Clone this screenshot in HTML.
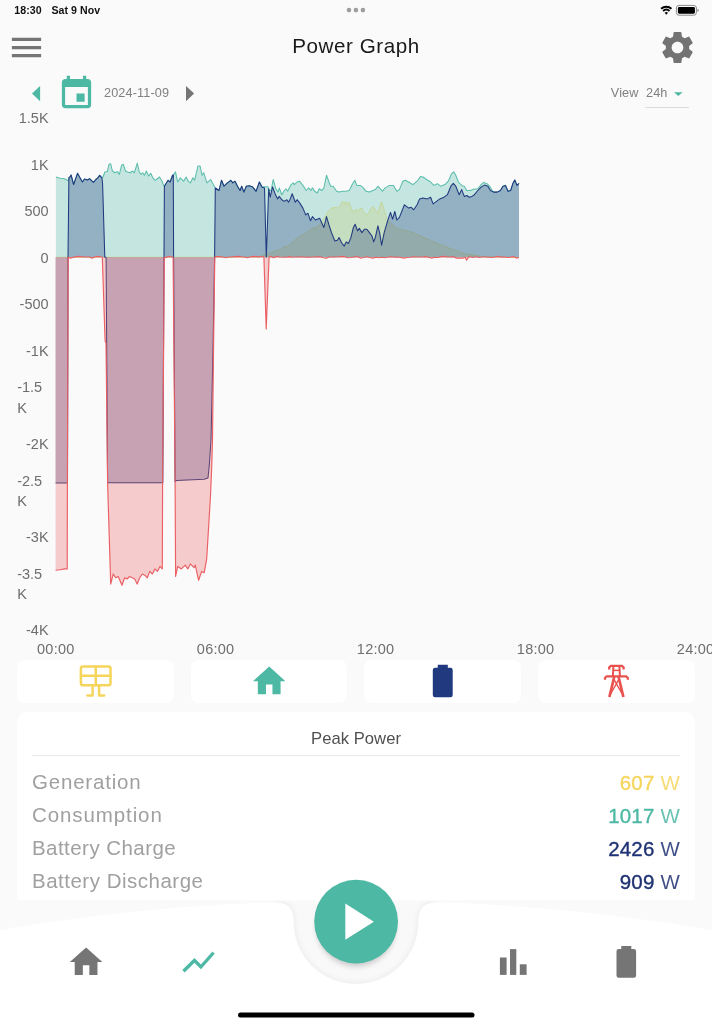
<!DOCTYPE html>
<html lang="en"><head><meta charset="utf-8"><title>Power Graph</title>
<style>
*{box-sizing:border-box;margin:0;padding:0}
html,body{width:712px;height:1024px;overflow:hidden;background:#fafafa}
body{position:relative;font-family:"Liberation Sans","DejaVu Sans",sans-serif;color:#757575}
.abs{position:absolute;white-space:nowrap;line-height:1}
.ic{position:absolute;display:block}
.card{position:absolute;background:#fff;border-radius:8px}
.ylab{position:absolute;left:0;width:48.6px;text-align:right;font-size:14.5px;line-height:18.6px;color:#6e6e6e;white-space:nowrap}
.ylab.two{text-align:left;left:17.2px;width:40px;line-height:20.4px}
.xlab{position:absolute;top:640.5px;width:60px;text-align:center;font-size:14.5px;letter-spacing:.25px;line-height:16px;color:#6e6e6e}
.row{position:absolute;left:32px;right:32px;height:24px;font-size:20.5px;line-height:24px;color:#a0a0a0;letter-spacing:.45px}
.row b{position:absolute;right:0;top:.5px;font-weight:normal;letter-spacing:.2px}
.row b i{font-style:normal;opacity:.85}
.row b u{text-decoration:none;-webkit-text-stroke:.35px currentColor}
</style></head><body>

<!-- status bar -->
<div class="abs" style="left:14.2px;top:5.2px;font-size:10.6px;font-weight:bold;color:#111;letter-spacing:.1px">18:30</div>
<div class="abs" style="left:51.4px;top:5.2px;font-size:10.6px;font-weight:bold;color:#111;letter-spacing:.05px">Sat 9 Nov</div>
<svg class="ic" style="left:340px;top:4px" width="32" height="12" viewBox="0 0 32 12"><g fill="#9e9e9e"><circle cx="9" cy="6.1" r="2.3"/><circle cx="15.9" cy="6.1" r="2.3"/><circle cx="22.9" cy="6.1" r="2.3"/></g></svg>
<svg class="ic" style="left:656px;top:2px" width="48" height="18" viewBox="0 0 48 18">
  <g fill="none" stroke="#000" stroke-width="1.9" stroke-linecap="butt">
    <path d="M5.12,6.74 A7.9,7.9 0 0 1 15.48,6.74"/>
    <path d="M7.09,9.0 A4.9,4.9 0 0 1 13.51,9.0"/>
  </g>
  <path d="M8.66,10.81 A2.5,2.5 0 0 1 11.94,10.81 L10.3,12.8 Z" fill="#000"/>
  <rect x="20.4" y="3.4" width="20" height="9.8" rx="2.6" fill="none" stroke="#8a8a8a" stroke-width="1"/>
  <rect x="21.9" y="4.9" width="17" height="6.8" rx="1.4" fill="#000"/>
  <path d="M41.6,6.7 v3.2 a1.4,1.7 0 0 0 0,-3.2z" fill="#666"/>
</svg>

<!-- header -->
<svg class="ic" style="left:6.9px;top:27.9px" width="39" height="39" viewBox="0 0 24 24"><path d="M3 18h18v-2H3v2zm0-5h18v-2H3v2zm0-7v2h18V6H3z" fill="#757575"/></svg>
<div class="abs" style="left:0;width:712px;text-align:center;top:35.9px;font-size:20.6px;color:#1a1a1a;letter-spacing:.58px">Power Graph</div>
<svg class="ic" style="left:657.70px;top:27.60px" width="39" height="39" viewBox="0 0 24 24"><path d="M19.14,12.94c0.04-0.3,0.06-0.61,0.06-0.94c0-0.32-0.02-0.64-0.07-0.94l2.03-1.58c0.18-0.14,0.23-0.41,0.12-0.61 l-1.92-3.32c-0.12-0.22-0.37-0.29-0.59-0.22l-2.39,0.96c-0.5-0.38-1.03-0.7-1.62-0.94L14.4,2.81c-0.04-0.24-0.24-0.41-0.48-0.41 h-3.84c-0.24,0-0.43,0.17-0.47,0.41L9.25,5.35C8.66,5.59,8.12,5.92,7.63,6.29L5.24,5.33c-0.22-0.08-0.47,0-0.59,0.22L2.74,8.87 C2.62,9.08,2.66,9.34,2.86,9.48l2.03,1.58C4.84,11.36,4.8,11.69,4.8,12s0.02,0.64,0.07,0.94l-2.03,1.58 c-0.18,0.14-0.23,0.41-0.12,0.61l1.92,3.32c0.12,0.22,0.37,0.29,0.59,0.22l2.39-0.96c0.5,0.38,1.03,0.7,1.62,0.94l0.36,2.54 c0.05,0.24,0.24,0.41,0.48,0.41h3.84c0.24,0,0.44-0.17,0.47-0.41l0.36-2.54c0.59-0.24,1.13-0.56,1.62-0.94l2.39,0.96 c0.22,0.08,0.47,0,0.59-0.22l1.92-3.32c0.12-0.22,0.07-0.47-0.12-0.61L19.14,12.94z M12,15.6c-1.98,0-3.6-1.62-3.6-3.6 s1.62-3.6,3.6-3.6s3.6,1.62,3.6,3.6S13.98,15.6,12,15.6z" fill="#737373"/></svg>

<!-- date row -->
<svg class="ic" style="left:30px;top:84px" width="12" height="20" viewBox="0 0 12 20"><path d="M10.1,2 L10.1,17.2 L2,9.6 Z" fill="#4db8a4"/></svg>
<svg class="ic" style="left:56.70px;top:74.10px" width="39" height="39" viewBox="0 0 24 24"><path d="M17 12h-5v5h5v-5zM16 1v2H8V1H6v2H5c-1.11 0-1.99.9-1.99 2L3 19c0 1.1.89 2 2 2h14c1.1 0 2-.9 2-2V5c0-1.1-.9-2-2-2h-1V1h-2zm3 18H5V8h14v11z" fill="#4db8a4"/></svg>
<div class="abs" style="left:104px;top:87.4px;font-size:12.7px;color:#808080;letter-spacing:.12px">2024-11-09</div>
<svg class="ic" style="left:183.5px;top:84.2px" width="12" height="20" viewBox="0 0 12 20"><path d="M2,2 L2,17.2 L10.1,9.6 Z" fill="#757575"/></svg>
<div class="abs" style="left:610.8px;top:87.4px;font-size:12.7px;color:#808080;letter-spacing:.1px">View</div>
<div class="abs" style="left:646px;top:87.4px;font-size:12.7px;color:#808080;letter-spacing:.1px">24h</div>
<svg class="ic" style="left:673px;top:91px" width="11" height="6" viewBox="0 0 11 6"><path d="M1,1.2 h8.6 l-4.3,3.9z" fill="#4db8a4"/></svg>
<div class="abs" style="left:645px;top:106.6px;width:43.5px;height:1px;background:#dcdcdc"></div>

<!-- chart -->
<div class="ylab" style="top:109.2px">1.5K</div>
<div class="ylab" style="top:155.8px">1K</div>
<div class="ylab" style="top:202.3px">500</div>
<div class="ylab" style="top:248.8px">0</div>
<div class="ylab" style="top:295.4px">-500</div>
<div class="ylab" style="top:341.9px">-1K</div>
<div class="ylab two" style="top:377.4px">-1.5<br>K</div>
<div class="ylab" style="top:435.0px">-2K</div>
<div class="ylab two" style="top:470.6px">-2.5<br>K</div>
<div class="ylab" style="top:528.1px">-3K</div>
<div class="ylab two" style="top:563.7px">-3.5<br>K</div>
<div class="ylab" style="top:621.2px">-4K</div>
<div class="xlab" style="left:25.8px">00:00</div>
<div class="xlab" style="left:185.6px">06:00</div>
<div class="xlab" style="left:345.6px">12:00</div>
<div class="xlab" style="left:505.6px">18:00</div>
<div class="xlab" style="left:665.6px">24:00</div>
<svg class="ic" style="left:0;top:0" width="712" height="660" viewBox="0 0 712 660">
<path d="M55.6,257.3 L256.0,257.3 L260.0,256.5 L265.0,254.5 L270.0,252.8 L275.0,251.1 L280.0,249.4 L284.3,246.9 L288.5,246.1 L293.6,241.0 L297.8,237.6 L303.7,234.3 L308.8,230.9 L312.1,228.4 L315.5,227.5 L318.9,225.8 L322.2,220.8 L325.6,215.7 L328.1,211.5 L331.5,208.1 L334.9,207.3 L337.4,208.1 L339.9,205.6 L342.5,201.4 L344.2,203.9 L345.5,201.4 L347.2,204.8 L348.9,202.2 L350.9,207.3 L353.4,212.4 L356.0,209.0 L357.6,211.5 L359.3,209.0 L361.9,208.1 L363.5,211.5 L366.1,214.9 L368.6,213.2 L371.1,208.1 L373.1,206.5 L375.3,209.8 L377.9,213.2 L379.6,207.3 L381.5,201.6 L383.3,207.0 L384.2,209.8 L387.6,220.8 L391.8,224.2 L396.9,228.4 L403.6,230.1 L410.3,231.7 L417.1,234.3 L423.8,237.6 L430.6,240.2 L437.3,243.5 L444.0,246.1 L450.8,248.6 L457.5,251.1 L464.3,253.7 L471.0,254.5 L481.1,256.2 L489.6,256.8 L500.0,257.2 L519.0,257.6 L519.0,257.3 L55.6,257.3 Z" fill="#f6d55c" fill-opacity="0.3" stroke="none"/>
<path d="M55.6,257.3 L256.0,257.3 L260.0,256.5 L265.0,254.5 L270.0,252.8 L275.0,251.1 L280.0,249.4 L284.3,246.9 L288.5,246.1 L293.6,241.0 L297.8,237.6 L303.7,234.3 L308.8,230.9 L312.1,228.4 L315.5,227.5 L318.9,225.8 L322.2,220.8 L325.6,215.7 L328.1,211.5 L331.5,208.1 L334.9,207.3 L337.4,208.1 L339.9,205.6 L342.5,201.4 L344.2,203.9 L345.5,201.4 L347.2,204.8 L348.9,202.2 L350.9,207.3 L353.4,212.4 L356.0,209.0 L357.6,211.5 L359.3,209.0 L361.9,208.1 L363.5,211.5 L366.1,214.9 L368.6,213.2 L371.1,208.1 L373.1,206.5 L375.3,209.8 L377.9,213.2 L379.6,207.3 L381.5,201.6 L383.3,207.0 L384.2,209.8 L387.6,220.8 L391.8,224.2 L396.9,228.4 L403.6,230.1 L410.3,231.7 L417.1,234.3 L423.8,237.6 L430.6,240.2 L437.3,243.5 L444.0,246.1 L450.8,248.6 L457.5,251.1 L464.3,253.7 L471.0,254.5 L481.1,256.2 L489.6,256.8 L500.0,257.2 L519.0,257.6" fill="none" stroke="#f6d55c" stroke-opacity="0.55" stroke-width="1" stroke-linejoin="round"/>
<path d="M55.9,177.0 L60.1,178.3 L64.3,178.7 L66.9,180.0 L68.2,180.7 L69.9,177.0 L71.1,175.0 L73.6,184.5 L77.5,173.3 L80.0,177.8 L82.4,182.0 L84.5,179.0 L87.4,180.0 L89.6,178.7 L91.3,180.3 L93.5,182.4 L95.8,179.5 L97.7,177.8 L99.7,175.3 L101.9,177.8 L103.1,177.0 L104.8,172.0 L107.3,171.6 L109.0,164.3 L110.7,163.8 L112.4,171.0 L114.9,172.8 L117.4,171.6 L119.4,174.4 L121.6,165.2 L123.3,164.3 L125.5,171.0 L127.5,172.0 L130.0,172.8 L132.6,171.0 L134.3,172.8 L137.3,163.1 L139.3,172.0 L141.0,174.4 L142.7,172.8 L144.4,175.3 L146.4,171.0 L148.6,176.1 L150.8,173.3 L152.8,177.8 L155.3,180.3 L157.0,179.0 L159.5,177.0 L162.1,181.2 L163.6,185.4 L164.2,186.2 L168.1,180.3 L170.1,182.0 L172.6,175.3 L173.5,175.0 L175.5,171.9 L177.7,182.0 L180.2,177.8 L183.6,181.2 L186.1,177.0 L188.3,181.2 L190.3,182.9 L192.9,177.8 L194.6,180.3 L197.9,166.0 L200.1,166.0 L202.1,175.3 L203.8,172.8 L206.9,182.9 L208.9,181.2 L210.6,179.5 L213.9,185.4 L215.3,187.9 L219.0,190.5 L221.5,180.3 L224.0,186.2 L227.4,182.9 L230.8,180.3 L232.8,182.9 L235.0,181.2 L237.5,186.2 L240.1,190.5 L241.7,186.2 L243.9,192.1 L246.3,186.2 L249.3,185.7 L252.7,187.1 L256.1,191.3 L259.4,182.0 L262.0,187.1 L264.5,186.7 L267.9,186.7 L269.6,190.5 L271.0,190.5 L273.2,179.5 L275.9,188.8 L278.1,192.1 L279.3,187.9 L281.8,194.7 L284.3,190.5 L286.0,188.8 L287.7,191.3 L291.1,184.6 L293.3,182.9 L294.4,184.6 L297.0,182.0 L299.5,181.2 L302.9,185.4 L306.2,190.5 L308.8,187.9 L310.8,190.5 L312.5,187.9 L314.7,191.3 L317.2,193.0 L319.2,188.8 L321.9,190.5 L323.9,187.9 L326.5,175.3 L329.0,182.0 L330.7,186.2 L333.2,186.2 L336.6,191.3 L339.1,192.1 L342.5,191.3 L345.8,191.3 L349.2,190.5 L352.6,183.7 L354.8,180.3 L356.8,185.4 L360.2,185.4 L362.7,187.1 L366.1,191.3 L369.4,192.1 L372.8,190.5 L375.3,189.6 L377.9,186.2 L380.4,188.8 L382.3,191.3 L385.1,187.9 L389.3,185.4 L393.5,185.4 L396.9,191.3 L399.4,189.6 L402.8,181.2 L405.3,180.3 L408.7,182.0 L412.9,184.6 L417.1,181.2 L420.5,176.6 L423.0,177.0 L426.4,179.5 L429.7,181.2 L433.9,185.4 L437.3,183.7 L440.7,186.2 L444.9,184.6 L448.3,181.2 L451.6,173.6 L453.7,171.9 L455.8,175.3 L458.4,182.0 L461.7,185.4 L464.3,186.2 L466.8,190.5 L470.2,190.5 L474.4,189.1 L477.8,188.8 L481.1,184.6 L483.7,182.4 L487.0,183.7 L489.6,186.2 L492.1,190.3 L493.7,192.1 L497.1,192.1 L500.4,190.5 L503.0,186.2 L505.5,185.4 L508.0,191.3 L510.6,190.5 L513.1,182.9 L514.8,180.0 L517.0,185.4 L519.0,183.4 L519.0,257.3 L55.9,257.3 Z" fill="#4db8a4" fill-opacity="0.3" stroke="none"/>
<path d="M55.9,177.0 L60.1,178.3 L64.3,178.7 L66.9,180.0 L68.2,180.7 L69.9,177.0 L71.1,175.0 L73.6,184.5 L77.5,173.3 L80.0,177.8 L82.4,182.0 L84.5,179.0 L87.4,180.0 L89.6,178.7 L91.3,180.3 L93.5,182.4 L95.8,179.5 L97.7,177.8 L99.7,175.3 L101.9,177.8 L103.1,177.0 L104.8,172.0 L107.3,171.6 L109.0,164.3 L110.7,163.8 L112.4,171.0 L114.9,172.8 L117.4,171.6 L119.4,174.4 L121.6,165.2 L123.3,164.3 L125.5,171.0 L127.5,172.0 L130.0,172.8 L132.6,171.0 L134.3,172.8 L137.3,163.1 L139.3,172.0 L141.0,174.4 L142.7,172.8 L144.4,175.3 L146.4,171.0 L148.6,176.1 L150.8,173.3 L152.8,177.8 L155.3,180.3 L157.0,179.0 L159.5,177.0 L162.1,181.2 L163.6,185.4 L164.2,186.2 L168.1,180.3 L170.1,182.0 L172.6,175.3 L173.5,175.0 L175.5,171.9 L177.7,182.0 L180.2,177.8 L183.6,181.2 L186.1,177.0 L188.3,181.2 L190.3,182.9 L192.9,177.8 L194.6,180.3 L197.9,166.0 L200.1,166.0 L202.1,175.3 L203.8,172.8 L206.9,182.9 L208.9,181.2 L210.6,179.5 L213.9,185.4 L215.3,187.9 L219.0,190.5 L221.5,180.3 L224.0,186.2 L227.4,182.9 L230.8,180.3 L232.8,182.9 L235.0,181.2 L237.5,186.2 L240.1,190.5 L241.7,186.2 L243.9,192.1 L246.3,186.2 L249.3,185.7 L252.7,187.1 L256.1,191.3 L259.4,182.0 L262.0,187.1 L264.5,186.7 L267.9,186.7 L269.6,190.5 L271.0,190.5 L273.2,179.5 L275.9,188.8 L278.1,192.1 L279.3,187.9 L281.8,194.7 L284.3,190.5 L286.0,188.8 L287.7,191.3 L291.1,184.6 L293.3,182.9 L294.4,184.6 L297.0,182.0 L299.5,181.2 L302.9,185.4 L306.2,190.5 L308.8,187.9 L310.8,190.5 L312.5,187.9 L314.7,191.3 L317.2,193.0 L319.2,188.8 L321.9,190.5 L323.9,187.9 L326.5,175.3 L329.0,182.0 L330.7,186.2 L333.2,186.2 L336.6,191.3 L339.1,192.1 L342.5,191.3 L345.8,191.3 L349.2,190.5 L352.6,183.7 L354.8,180.3 L356.8,185.4 L360.2,185.4 L362.7,187.1 L366.1,191.3 L369.4,192.1 L372.8,190.5 L375.3,189.6 L377.9,186.2 L380.4,188.8 L382.3,191.3 L385.1,187.9 L389.3,185.4 L393.5,185.4 L396.9,191.3 L399.4,189.6 L402.8,181.2 L405.3,180.3 L408.7,182.0 L412.9,184.6 L417.1,181.2 L420.5,176.6 L423.0,177.0 L426.4,179.5 L429.7,181.2 L433.9,185.4 L437.3,183.7 L440.7,186.2 L444.9,184.6 L448.3,181.2 L451.6,173.6 L453.7,171.9 L455.8,175.3 L458.4,182.0 L461.7,185.4 L464.3,186.2 L466.8,190.5 L470.2,190.5 L474.4,189.1 L477.8,188.8 L481.1,184.6 L483.7,182.4 L487.0,183.7 L489.6,186.2 L492.1,190.3 L493.7,192.1 L497.1,192.1 L500.4,190.5 L503.0,186.2 L505.5,185.4 L508.0,191.3 L510.6,190.5 L513.1,182.9 L514.8,180.0 L517.0,185.4 L519.0,183.4" fill="none" stroke="#4db8a4" stroke-opacity="0.9" stroke-width="1.05" stroke-linejoin="round"/>
<path d="M55.6,483.0 L67.5,483.0 L68.0,257.3 L68.9,177.5 L69.9,177.0 L71.1,175.0 L73.6,184.5 L77.5,173.3 L80.0,177.8 L82.4,182.0 L84.5,179.0 L87.4,180.0 L89.6,178.7 L91.3,180.3 L93.5,182.4 L95.8,179.5 L97.7,177.8 L99.7,175.3 L101.9,177.8 L102.6,183.7 L104.8,257.3 L106.1,257.3 L107.6,482.7 L162.8,482.7 L164.0,257.3 L164.4,186.2 L168.1,180.3 L170.1,182.0 L172.6,175.3 L173.3,175.0 L173.6,257.3 L175.1,481.7 L176.4,480.4 L204.2,479.2 L208.0,478.0 L209.3,465.3 L211.0,440.0 L213.0,351.0 L214.6,257.3 L215.3,188.0 L219.0,190.5 L221.5,180.3 L224.0,186.2 L227.4,182.9 L230.8,180.3 L232.8,182.9 L235.0,181.2 L237.5,186.2 L240.1,190.5 L241.7,186.2 L243.9,192.1 L246.3,186.2 L249.3,185.7 L252.7,187.1 L256.1,191.3 L259.4,182.0 L262.0,187.1 L264.5,187.9 L266.3,257.3 L268.7,188.8 L270.2,197.2 L272.6,186.9 L275.1,193.8 L277.6,198.9 L279.3,196.4 L281.8,199.7 L284.3,201.4 L286.9,199.7 L288.5,202.2 L290.2,198.9 L292.2,193.8 L295.3,202.2 L297.3,199.7 L300.3,203.9 L302.9,208.1 L305.7,214.9 L307.9,213.2 L310.5,220.8 L312.5,216.6 L315.5,220.0 L319.7,218.3 L323.9,227.5 L326.5,216.6 L329.0,225.0 L331.5,232.6 L334.9,241.0 L337.4,240.2 L339.1,237.6 L341.6,242.7 L344.2,246.1 L346.2,241.9 L348.4,243.5 L350.9,237.6 L353.4,227.5 L355.1,224.2 L357.6,230.9 L359.3,228.4 L361.9,232.6 L364.4,229.2 L366.9,229.2 L369.4,232.6 L372.0,236.0 L373.7,241.9 L375.3,237.6 L377.9,225.8 L379.6,232.6 L381.6,245.2 L384.2,232.6 L387.6,220.8 L390.5,212.4 L392.6,219.1 L394.8,211.5 L396.9,220.0 L399.4,217.4 L404.4,204.8 L408.7,208.1 L411.2,207.3 L413.7,209.8 L417.1,204.8 L419.6,198.9 L423.0,198.0 L427.2,198.9 L430.6,197.2 L433.1,203.9 L436.5,201.4 L439.8,198.9 L444.0,197.2 L447.4,194.7 L450.8,186.2 L453.3,183.4 L455.8,186.2 L459.2,194.7 L461.7,189.6 L464.3,196.4 L466.8,195.5 L469.3,197.2 L471.9,196.4 L474.4,194.7 L477.8,190.5 L481.1,187.1 L484.5,185.1 L487.9,186.2 L490.4,190.5 L493.7,192.1 L497.1,192.1 L500.4,190.5 L503.0,186.2 L505.5,185.4 L508.0,191.3 L510.6,190.5 L513.1,182.9 L514.8,180.0 L517.0,185.4 L519.0,183.4 L519.0,257.3 L55.6,257.3 Z" fill="#20397f" fill-opacity="0.3" stroke="none"/>
<path d="M55.6,483.0 L67.5,483.0 L68.0,257.3 L68.9,177.5 L69.9,177.0 L71.1,175.0 L73.6,184.5 L77.5,173.3 L80.0,177.8 L82.4,182.0 L84.5,179.0 L87.4,180.0 L89.6,178.7 L91.3,180.3 L93.5,182.4 L95.8,179.5 L97.7,177.8 L99.7,175.3 L101.9,177.8 L102.6,183.7 L104.8,257.3 L106.1,257.3 L107.6,482.7 L162.8,482.7 L164.0,257.3 L164.4,186.2 L168.1,180.3 L170.1,182.0 L172.6,175.3 L173.3,175.0 L173.6,257.3 L175.1,481.7 L176.4,480.4 L204.2,479.2 L208.0,478.0 L209.3,465.3 L211.0,440.0 L213.0,351.0 L214.6,257.3 L215.3,188.0 L219.0,190.5 L221.5,180.3 L224.0,186.2 L227.4,182.9 L230.8,180.3 L232.8,182.9 L235.0,181.2 L237.5,186.2 L240.1,190.5 L241.7,186.2 L243.9,192.1 L246.3,186.2 L249.3,185.7 L252.7,187.1 L256.1,191.3 L259.4,182.0 L262.0,187.1 L264.5,187.9 L266.3,257.3 L268.7,188.8 L270.2,197.2 L272.6,186.9 L275.1,193.8 L277.6,198.9 L279.3,196.4 L281.8,199.7 L284.3,201.4 L286.9,199.7 L288.5,202.2 L290.2,198.9 L292.2,193.8 L295.3,202.2 L297.3,199.7 L300.3,203.9 L302.9,208.1 L305.7,214.9 L307.9,213.2 L310.5,220.8 L312.5,216.6 L315.5,220.0 L319.7,218.3 L323.9,227.5 L326.5,216.6 L329.0,225.0 L331.5,232.6 L334.9,241.0 L337.4,240.2 L339.1,237.6 L341.6,242.7 L344.2,246.1 L346.2,241.9 L348.4,243.5 L350.9,237.6 L353.4,227.5 L355.1,224.2 L357.6,230.9 L359.3,228.4 L361.9,232.6 L364.4,229.2 L366.9,229.2 L369.4,232.6 L372.0,236.0 L373.7,241.9 L375.3,237.6 L377.9,225.8 L379.6,232.6 L381.6,245.2 L384.2,232.6 L387.6,220.8 L390.5,212.4 L392.6,219.1 L394.8,211.5 L396.9,220.0 L399.4,217.4 L404.4,204.8 L408.7,208.1 L411.2,207.3 L413.7,209.8 L417.1,204.8 L419.6,198.9 L423.0,198.0 L427.2,198.9 L430.6,197.2 L433.1,203.9 L436.5,201.4 L439.8,198.9 L444.0,197.2 L447.4,194.7 L450.8,186.2 L453.3,183.4 L455.8,186.2 L459.2,194.7 L461.7,189.6 L464.3,196.4 L466.8,195.5 L469.3,197.2 L471.9,196.4 L474.4,194.7 L477.8,190.5 L481.1,187.1 L484.5,185.1 L487.9,186.2 L490.4,190.5 L493.7,192.1 L497.1,192.1 L500.4,190.5 L503.0,186.2 L505.5,185.4 L508.0,191.3 L510.6,190.5 L513.1,182.9 L514.8,180.0 L517.0,185.4 L519.0,183.4" fill="none" stroke="#20397f" stroke-opacity="1" stroke-width="1.05" stroke-linejoin="round"/>
<path d="M55.6,570.2 L60.0,569.8 L65.0,568.9 L67.2,568.9 L67.4,483.0 L68.2,257.3 L70.5,258.1 L73.6,257.3 L76.7,256.6 L79.8,256.4 L82.9,257.0 L86.0,257.0 L89.1,257.0 L92.2,258.1 L95.3,256.8 L98.4,256.4 L101.5,257.0 L102.3,257.3 L105.1,341.0 L106.0,343.0 L107.6,483.0 L110.7,584.1 L113.2,574.0 L115.7,577.8 L118.2,576.5 L122.0,585.3 L124.6,577.8 L127.1,579.0 L129.6,576.5 L132.2,577.8 L134.7,579.0 L137.2,584.1 L139.7,577.8 L142.3,574.0 L144.8,575.2 L147.3,577.8 L149.8,571.4 L152.4,574.0 L154.9,568.9 L157.4,571.4 L160.0,566.4 L162.3,568.9 L162.6,483.0 L164.3,257.3 L165.5,257.7 L168.6,256.4 L171.7,257.0 L173.1,257.3 L175.1,481.7 L175.6,576.5 L177.7,566.4 L181.4,568.9 L185.2,565.1 L187.8,568.9 L190.3,563.9 L194.1,567.7 L195.3,565.1 L198.6,580.3 L201.7,571.4 L204.2,572.7 L206.7,558.8 L209.3,515.8 L210.5,495.6 L211.8,465.0 L212.5,440.0 L213.5,351.0 L214.8,257.3 L216.5,256.6 L219.6,256.6 L222.7,257.0 L225.8,257.7 L228.9,257.0 L232.0,257.0 L235.1,256.6 L238.2,256.4 L241.3,256.8 L244.4,257.0 L247.5,257.7 L250.6,256.8 L253.7,256.4 L256.8,256.8 L259.9,256.8 L263.0,256.6 L263.9,257.3 L266.2,328.9 L269.1,257.3 L270.5,256.4 L273.6,257.7 L276.7,256.4 L279.8,257.0 L282.9,257.3 L286.0,257.2 L289.1,256.6 L292.2,257.3 L295.3,257.0 L298.4,257.0 L301.5,256.8 L304.6,257.2 L307.7,257.0 L310.8,257.3 L313.9,257.0 L317.0,256.8 L320.1,256.8 L323.2,257.7 L326.3,258.1 L329.4,257.0 L332.5,257.0 L335.6,257.0 L338.7,256.8 L341.8,256.4 L344.9,256.8 L348.0,257.7 L351.1,257.5 L354.2,257.0 L357.3,256.6 L360.4,258.1 L363.5,257.5 L366.6,256.8 L369.7,257.5 L372.8,258.1 L375.9,257.2 L379.0,257.7 L382.1,257.3 L385.2,257.7 L388.3,257.0 L391.4,256.8 L394.5,257.2 L397.6,257.0 L400.7,257.5 L403.8,258.1 L406.9,257.5 L410.0,257.2 L413.1,256.8 L416.2,257.0 L419.3,257.0 L422.4,257.0 L425.5,256.6 L428.6,257.3 L431.7,258.1 L434.8,257.3 L437.9,257.5 L441.0,256.6 L444.1,256.4 L447.2,257.0 L450.3,257.0 L453.4,256.8 L456.5,258.1 L459.6,258.1 L462.7,258.1 L465.2,257.2 L466.6,260.3 L468.4,257.4 L470.0,256.8 L473.1,257.5 L476.2,256.8 L479.3,257.5 L482.4,257.0 L485.5,257.0 L488.6,257.2 L491.7,257.5 L494.8,257.0 L497.9,256.4 L501.0,257.2 L504.1,256.8 L507.2,257.5 L510.3,257.2 L513.4,256.6 L516.5,258.1 L519.0,257.5 L519.0,257.3 L55.6,257.3 Z" fill="#ea5f64" fill-opacity="0.3" stroke="none"/>
<path d="M55.6,570.2 L60.0,569.8 L65.0,568.9 L67.2,568.9 L67.4,483.0 L68.2,257.3 L70.5,258.1 L73.6,257.3 L76.7,256.6 L79.8,256.4 L82.9,257.0 L86.0,257.0 L89.1,257.0 L92.2,258.1 L95.3,256.8 L98.4,256.4 L101.5,257.0 L102.3,257.3 L105.1,341.0 L106.0,343.0 L107.6,483.0 L110.7,584.1 L113.2,574.0 L115.7,577.8 L118.2,576.5 L122.0,585.3 L124.6,577.8 L127.1,579.0 L129.6,576.5 L132.2,577.8 L134.7,579.0 L137.2,584.1 L139.7,577.8 L142.3,574.0 L144.8,575.2 L147.3,577.8 L149.8,571.4 L152.4,574.0 L154.9,568.9 L157.4,571.4 L160.0,566.4 L162.3,568.9 L162.6,483.0 L164.3,257.3 L165.5,257.7 L168.6,256.4 L171.7,257.0 L173.1,257.3 L175.1,481.7 L175.6,576.5 L177.7,566.4 L181.4,568.9 L185.2,565.1 L187.8,568.9 L190.3,563.9 L194.1,567.7 L195.3,565.1 L198.6,580.3 L201.7,571.4 L204.2,572.7 L206.7,558.8 L209.3,515.8 L210.5,495.6 L211.8,465.0 L212.5,440.0 L213.5,351.0 L214.8,257.3 L216.5,256.6 L219.6,256.6 L222.7,257.0 L225.8,257.7 L228.9,257.0 L232.0,257.0 L235.1,256.6 L238.2,256.4 L241.3,256.8 L244.4,257.0 L247.5,257.7 L250.6,256.8 L253.7,256.4 L256.8,256.8 L259.9,256.8 L263.0,256.6 L263.9,257.3 L266.2,328.9 L269.1,257.3 L270.5,256.4 L273.6,257.7 L276.7,256.4 L279.8,257.0 L282.9,257.3 L286.0,257.2 L289.1,256.6 L292.2,257.3 L295.3,257.0 L298.4,257.0 L301.5,256.8 L304.6,257.2 L307.7,257.0 L310.8,257.3 L313.9,257.0 L317.0,256.8 L320.1,256.8 L323.2,257.7 L326.3,258.1 L329.4,257.0 L332.5,257.0 L335.6,257.0 L338.7,256.8 L341.8,256.4 L344.9,256.8 L348.0,257.7 L351.1,257.5 L354.2,257.0 L357.3,256.6 L360.4,258.1 L363.5,257.5 L366.6,256.8 L369.7,257.5 L372.8,258.1 L375.9,257.2 L379.0,257.7 L382.1,257.3 L385.2,257.7 L388.3,257.0 L391.4,256.8 L394.5,257.2 L397.6,257.0 L400.7,257.5 L403.8,258.1 L406.9,257.5 L410.0,257.2 L413.1,256.8 L416.2,257.0 L419.3,257.0 L422.4,257.0 L425.5,256.6 L428.6,257.3 L431.7,258.1 L434.8,257.3 L437.9,257.5 L441.0,256.6 L444.1,256.4 L447.2,257.0 L450.3,257.0 L453.4,256.8 L456.5,258.1 L459.6,258.1 L462.7,258.1 L465.2,257.2 L466.6,260.3 L468.4,257.4 L470.0,256.8 L473.1,257.5 L476.2,256.8 L479.3,257.5 L482.4,257.0 L485.5,257.0 L488.6,257.2 L491.7,257.5 L494.8,257.0 L497.9,256.4 L501.0,257.2 L504.1,256.8 L507.2,257.5 L510.3,257.2 L513.4,256.6 L516.5,258.1 L519.0,257.5" fill="none" stroke="#ea5f64" stroke-opacity="1" stroke-width="1.15" stroke-linejoin="round"/>
</svg>

<!-- source buttons -->
<div class="card" style="left:17px;top:659.5px;width:156.5px;height:43.2px"></div>
<div class="card" style="left:190.8px;top:659.5px;width:156.5px;height:43.2px"></div>
<div class="card" style="left:364.4px;top:659.5px;width:156.5px;height:43.2px"></div>
<div class="card" style="left:538px;top:659.5px;width:156.5px;height:43.2px"></div>
<svg class="ic" style="left:0;top:655px" width="712" height="52" viewBox="0 655 712 52">
  <g fill="none" stroke="#f6d55c" stroke-width="2.5" stroke-linejoin="round" stroke-linecap="round">
    <rect x="80.9" y="666.4" width="29.6" height="18.9" rx="2"/>
    <path d="M80.9,675.8 H110.5 M95.8,666.4 V685.3 M92.6,686 V695.4 H87.4 M99.1,686 V695.4 H104.2"/>
  </g>
  <g transform="translate(249.7,661.7) scale(1.625)"><path d="M10 20v-6h4v6h5v-8h3L12 3 2 12h3v8z" fill="#4db8a4"/></g>
  <path d="M437.8,664.8 h10 v3.0 h2.7 a2.2,2.2 0 0 1 2.2,2.2 v25.0 a2.2,2.2 0 0 1 -2.2,2.2 h-15.5 a2.2,2.2 0 0 1 -2.2,-2.2 v-25.0 a2.2,2.2 0 0 1 2.2,-2.2 h2.7 z" fill="#20397f"/>
  <g fill="none" stroke="#e9534f" stroke-linejoin="miter" stroke-linecap="butt">
    <path d="M609.2,669.4 V667.4 L610.8,665.8 H622 L623.6,667.4 V669.4" stroke-width="2.3"/>
    <path d="M605,679.8 V677.9 L606.6,676.3 H626.2 L627.8,677.9 V679.8" stroke-width="2.3"/>
    <path d="M613.4,666 L612.9,676 M619.4,666 L619.9,676" stroke-width="2"/>
    <path d="M613,670.4 H619.8" stroke-width="1.5"/>
    <path d="M614.2,677 L609.4,697 M618.6,677 L623.4,697" stroke-width="2.7"/>
    <path d="M614.4,680.2 L622.2,694 M618.4,680.2 L610.6,694" stroke-width="1.4"/>
  </g>
</svg>

<!-- peak power card -->
<div class="card" style="left:17px;top:712px;width:678px;height:188.2px;border-radius:10px 10px 0 0"></div>
<div class="abs" style="left:17px;width:678px;text-align:center;top:730.7px;font-size:16.6px;color:#505050;letter-spacing:.05px">Peak Power</div>
<div class="abs" style="left:32px;top:754.6px;width:648px;height:1px;background:#eaeaea"></div>
<div class="row" style="top:770px;letter-spacing:.8px">Generation<b style="color:#f6d55c"><u>607</u> <i>W</i></b></div>
<div class="row" style="top:803px;letter-spacing:.9px">Consumption<b style="color:#4db8a4"><u>1017</u> <i>W</i></b></div>
<div class="row" style="top:836px">Battery Charge<b style="color:#1f3272"><u>2426</u> <i>W</i></b></div>
<div class="row" style="top:869px;letter-spacing:.5px">Battery Discharge<b style="color:#1f3272"><u>909</u> <i>W</i></b></div>

<!-- bottom bar -->
<svg class="ic" style="left:0;top:860px" width="712" height="164" viewBox="0 860 712 164">
  <defs>
    <filter id="fs" x="-30%" y="-30%" width="160%" height="170%"><feGaussianBlur stdDeviation="3"/></filter>
    <filter id="bs" x="-10%" y="-20%" width="120%" height="140%"><feGaussianBlur stdDeviation="2"/></filter>
  </defs>
  <path d="M0,930 Q166.7,901.5 330,901.5 H382 Q545.3,901.5 712,930 V1024 H0Z" fill="#fff"/>
  <clipPath id="nc"><path d="M258,901.5 C284,901.5 293.5,903 293.5,921.6 A62.5,62.5 0 0 0 418.5,921.6 C418.5,903 428,901.5 454,901.5 Z"/></clipPath>
  <path d="M258,901.5 C284,901.5 293.5,903 293.5,921.6 A62.5,62.5 0 0 0 418.5,921.6 C418.5,903 428,901.5 454,901.5 Z" fill="#f9f9f9"/>
  <g clip-path="url(#nc)"><path d="M240,901.5 H258 C284,901.5 293.5,903 293.5,921.6 A62.5,62.5 0 0 0 418.5,921.6 C418.5,903 428,901.5 454,901.5 H472" fill="none" stroke="#000" stroke-opacity=".04" stroke-width="5" filter="url(#bs)"/></g>
  <ellipse cx="356" cy="927" rx="39" ry="39" fill="#000" opacity=".22" filter="url(#fs)"/>
  <circle cx="356.1" cy="921.6" r="41.9" fill="#4db8a4"/>
  <path d="M345.3,903.6 V939.8 L373.9,921.7Z" fill="#fff"/>
  <g transform="translate(66.6,942.5) scale(1.625)"><path d="M10 20v-6h4v6h5v-8h3L12 3 2 12h3v8z" fill="#757575"/></g>
  <g transform="translate(179.0,942.5) scale(1.625)"><path d="M3.5 18.49l6-6.01 4 4L22 6.92l-1.41-1.41-7.09 7.97-4-4L2 16.99z" fill="#4db8a4"/></g>
  <g fill="#757575"><rect x="499.9" y="957.5" width="6.7" height="17.4"/><rect x="510" y="949.1" width="6.3" height="25.8"/><rect x="519.8" y="964.3" width="6.8" height="10.6"/></g>
  <path d="M621.3,946.0 h10 v3.0 h2.6 a2.2,2.2 0 0 1 2.2,2.2 v24.4 a2.2,2.2 0 0 1 -2.2,2.2 h-15.2 a2.2,2.2 0 0 1 -2.2,-2.2 v-24.4 a2.2,2.2 0 0 1 2.2,-2.2 h2.6 z" fill="#757575"/>
  <rect x="238" y="1012.6" width="236.5" height="5" rx="2.5" fill="#000"/>
</svg>
</body></html>
